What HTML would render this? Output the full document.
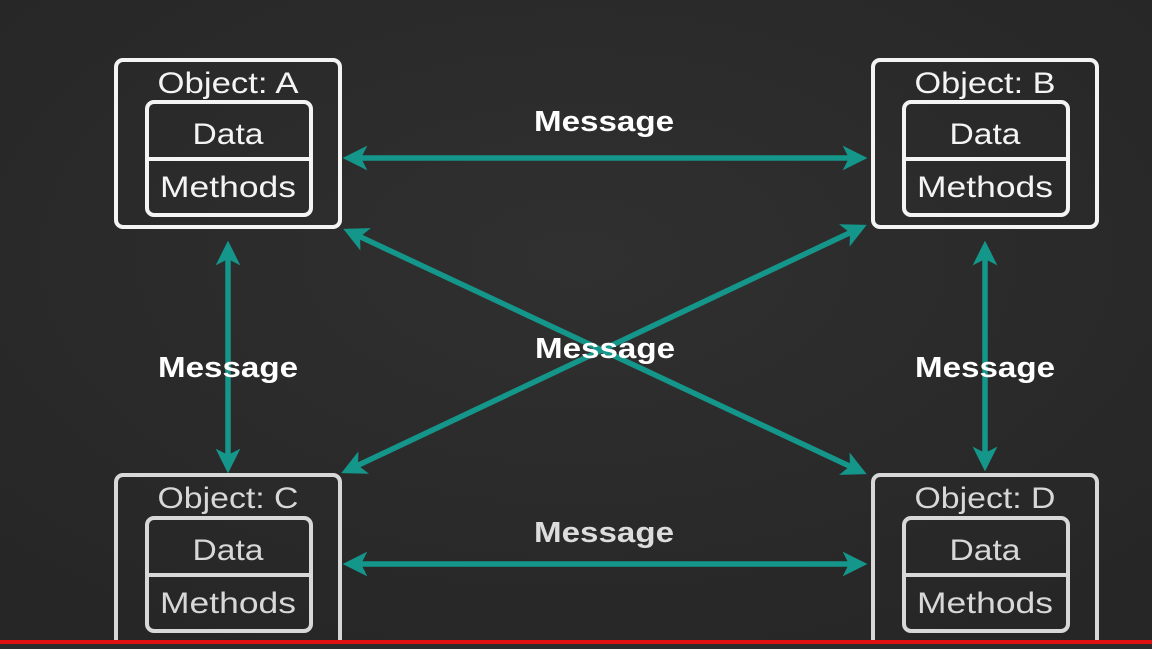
<!DOCTYPE html>
<html><head><style>
body{margin:0;width:1152px;height:644px;overflow:hidden;background:#2c2c2c;font-family:"Liberation Sans",sans-serif;}
</style></head><body>
<svg width="1152" height="644" viewBox="0 0 1152 644" xmlns="http://www.w3.org/2000/svg">
<defs>
<radialGradient id="bg" cx="50%" cy="40%" r="70%"><stop offset="0" stop-color="#303030"/><stop offset="1" stop-color="#262626"/></radialGradient>
<marker id="ah" viewBox="0 0 20 20" refX="14" refY="10" markerWidth="4.5" markerHeight="4.5" orient="auto-start-reverse" markerUnits="strokeWidth">
<path d="M0,0 L20,10 L0,20 L5,10 Z" fill="#14968a"/></marker>
</defs>
<rect width="1152" height="644" fill="url(#bg)"/>
<g stroke="#14968a" stroke-width="5.5" fill="none" marker-start="url(#ah)" marker-end="url(#ah)">
<line x1="350" y1="158" x2="860" y2="158"/>
<line x1="350" y1="564" x2="860" y2="564"/>
<line x1="228" y1="248" x2="228" y2="466"/>
<line x1="985" y1="248" x2="985" y2="464"/>
<line x1="350" y1="232" x2="860" y2="471"/>
<line x1="860" y1="228" x2="348" y2="470"/>
</g>
<g fill="none" stroke-width="4">
<g stroke="#f4f4f4">
<rect x="116" y="60" width="224" height="167" rx="7"/>
<rect x="147" y="102" width="164" height="113" rx="7"/>
<line x1="147" y1="159" x2="311" y2="159"/>
<rect x="873" y="60" width="224" height="167" rx="7"/>
<rect x="904" y="102" width="164" height="113" rx="7"/>
<line x1="904" y1="159" x2="1068" y2="159"/>
</g>
<g stroke="#d8d8d8">
<rect x="116" y="475" width="224" height="180" rx="7"/>
<rect x="147" y="518" width="164" height="113" rx="7"/>
<line x1="147" y1="575" x2="311" y2="575"/>
<rect x="873" y="475" width="224" height="180" rx="7"/>
<rect x="904" y="518" width="164" height="113" rx="7"/>
<line x1="904" y1="575" x2="1068" y2="575"/>
</g>
</g>
<g font-size="30" text-anchor="middle">
<g fill="#f4f4f4">
<text x="228" y="93" textLength="141" lengthAdjust="spacingAndGlyphs">Object: A</text><text x="228" y="144" textLength="71" lengthAdjust="spacingAndGlyphs">Data</text><text x="228" y="197" textLength="136" lengthAdjust="spacingAndGlyphs">Methods</text>
<text x="985" y="93" textLength="141" lengthAdjust="spacingAndGlyphs">Object: B</text><text x="985" y="144" textLength="71" lengthAdjust="spacingAndGlyphs">Data</text><text x="985" y="197" textLength="136" lengthAdjust="spacingAndGlyphs">Methods</text>
</g>
<g fill="#d8d8d8">
<text x="228" y="508" textLength="141" lengthAdjust="spacingAndGlyphs">Object: C</text><text x="228" y="560" textLength="71" lengthAdjust="spacingAndGlyphs">Data</text><text x="228" y="613" textLength="136" lengthAdjust="spacingAndGlyphs">Methods</text>
<text x="985" y="508" textLength="141" lengthAdjust="spacingAndGlyphs">Object: D</text><text x="985" y="560" textLength="71" lengthAdjust="spacingAndGlyphs">Data</text><text x="985" y="613" textLength="136" lengthAdjust="spacingAndGlyphs">Methods</text>
</g>
</g>
<g font-size="29" font-weight="bold" text-anchor="middle" fill="#fff">
<text x="604" y="131" textLength="140" lengthAdjust="spacingAndGlyphs">Message</text>
<text x="605" y="358" textLength="140" lengthAdjust="spacingAndGlyphs">Message</text>
<text x="228" y="377" textLength="140" lengthAdjust="spacingAndGlyphs">Message</text>
<text x="985" y="377" textLength="140" lengthAdjust="spacingAndGlyphs">Message</text>
<text x="604" y="542" textLength="140" lengthAdjust="spacingAndGlyphs" fill="#ddd">Message</text>
</g>
<rect x="0" y="640" width="1152" height="4" fill="#e01010"/>
</svg>
</body></html>
